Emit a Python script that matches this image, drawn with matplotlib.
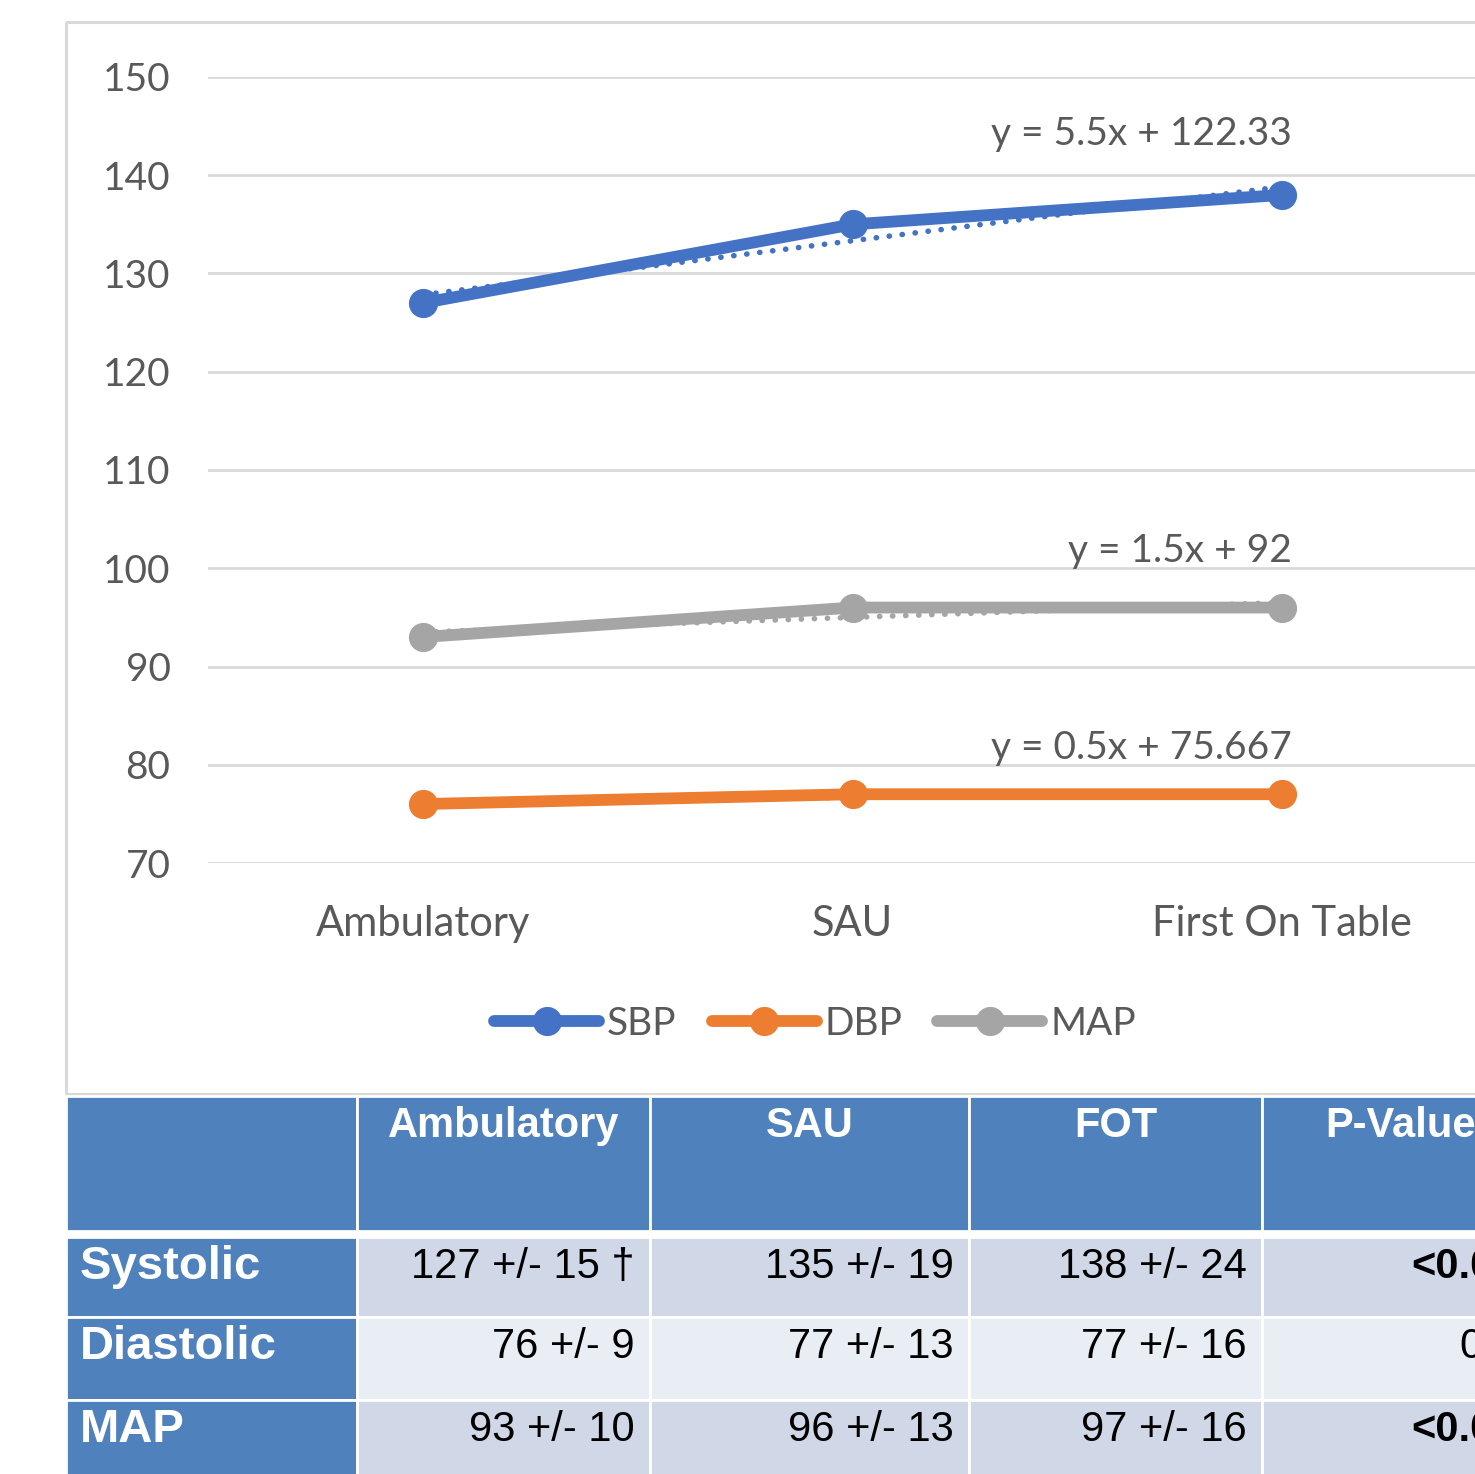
import numpy as np
import matplotlib.pyplot as plt
from matplotlib.patches import Rectangle

# chart data
categories = ['Ambulatory', 'SAU', 'First On Table']
sbp = [127, 135, 138]
dbp = [76, 77, 77]
map_bp = [93, 96, 96]
series = [sbp, dbp, map_bp]
series_names = ['SBP', 'DBP', 'MAP']
series_colors = ['#4472C4', '#ED7D31', '#A5A5A5']
y_ticks = [70, 80, 90, 100, 110, 120, 130, 140, 150]

# table data
table_header = ['', 'Ambulatory', 'SAU', 'FOT', 'P-Value']
row_labels = ['Systolic', 'Diastolic', 'MAP']
table_cells = [['127 +/- 15 \u2020', '135 +/- 19', '138 +/- 24'],
               ['76 +/- 9', '77 +/- 13', '77 +/- 16'],
               ['93 +/- 10', '96 +/- 13', '97 +/- 16']]
p_values = ['<0.001', '0.77', '<0.001']
p_bold = [True, False, True]

W, H = 1475, 1474
chart_font = 'Lato'
table_font = 'Liberation Sans'
txt_grey = '#595959'

fig = plt.figure(figsize=(W / 100, H / 100), dpi=100)

# overlay in pixel coordinates for the frame and the table
ov = fig.add_axes([0, 0, 1, 1])
ov.set_xlim(0, W)
ov.set_ylim(H, 0)
ov.axis('off')

ov.add_patch(Rectangle((66, 22), 1700, 1072, fill=False,
                       edgecolor='#D9D9D9', lw=2.2))

# chart
ax = fig.add_axes([208 / W, 1 - 863 / H, (1497 - 208) / W, (863 - 77) / H])
ax.set_facecolor('none')
x = np.arange(len(categories))
xn = x + 1  # excel numbers categories from 1 for trendlines
for vals, name, col in zip(series, series_names, series_colors):
    ax.plot(x, vals, color=col, lw=8.5, marker='o', ms=20,
            solid_capstyle='round', label=name, zorder=3)
    k, b = np.polyfit(xn, vals, 1)
    ax.plot(x, k * xn + b, color=col, lw=4, linestyle=(0, (0.05, 2.3)),
            dash_capstyle='round', zorder=2)

eq_label_y = [144.2, 81.7, 101.8]
for vals, ly in zip(series, eq_label_y):
    k, b = np.polyfit(xn, vals, 1)
    ax.text(2.023, ly, f'y = {k:.5g}x + {b:.5g}', ha='right', va='center',
            fontsize=28, color=txt_grey, family=chart_font)

ax.set_xlim(-0.5, 2.5)
ax.set_ylim(70, 150)
ax.set_yticks(y_ticks)
ax.set_xticks(x)
ax.set_xticklabels(categories)
ax.grid(axis='y', color='#D9D9D9', lw=2)
ax.set_axisbelow(True)
for s in ax.spines.values():
    s.set_visible(False)
ax.tick_params(length=0, labelsize=28, labelcolor=txt_grey)
ax.tick_params(axis='y', pad=27)
ax.tick_params(axis='x', pad=30, labelsize=30)
for lab in ax.get_xticklabels() + ax.get_yticklabels():
    lab.set_family(chart_font)

leg = fig.legend(*ax.get_legend_handles_labels(), loc='center',
                 bbox_to_anchor=(815 / W, 1 - 1024 / H), ncol=3, frameon=False,
                 prop={'family': chart_font, 'size': 28}, handlelength=2.7,
                 handletextpad=0.2, columnspacing=0.9)
for t in leg.get_texts():
    t.set_color(txt_grey)

# table
col_edges = [66, 357, 650, 969, 1262, 1540]
head_top, head_bot = 1096, 1231
row_edges = [(1237, 1317), (1317, 1400), (1400, 1490)]
head_col = '#4F81BD'
band_cols = ['#D0D8E8', '#E9EDF4', '#D0D8E8']

for c in range(len(table_header)):
    x0, x1 = col_edges[c], col_edges[c + 1]
    ov.add_patch(Rectangle((x0, head_top), x1 - x0, head_bot - head_top,
                           facecolor=head_col, edgecolor='white', lw=2))
    if table_header[c]:
        ov.text((x0 + x1) / 2, head_top + 30, table_header[c], ha='center',
                va='center', color='white', fontsize=30, fontweight='bold',
                family=table_font)

for r, (y0, y1) in enumerate(row_edges):
    ov.add_patch(Rectangle((col_edges[0], y0), col_edges[1] - col_edges[0],
                           y1 - y0, facecolor=head_col, edgecolor='white', lw=2))
    ov.text(80, y0 + 30, row_labels[r], ha='left', va='center', color='white',
            fontsize=34, fontweight='bold', family=table_font)
    for c in range(1, len(table_header)):
        x0, x1 = col_edges[c], col_edges[c + 1]
        ov.add_patch(Rectangle((x0, y0), x1 - x0, y1 - y0,
                               facecolor=band_cols[r], edgecolor='white', lw=2))
    for c, val in enumerate(table_cells[r]):
        ov.text(col_edges[c + 2] - 15, y0 + 30, val, ha='right', va='center',
                color='black', fontsize=30, family=table_font)
    ov.text(1540, y0 + 30, p_values[r], ha='right', va='center', color='black',
            fontsize=30, family=table_font,
            fontweight='bold' if p_bold[r] else 'normal')

fig.savefig('out.png', dpi=100)
